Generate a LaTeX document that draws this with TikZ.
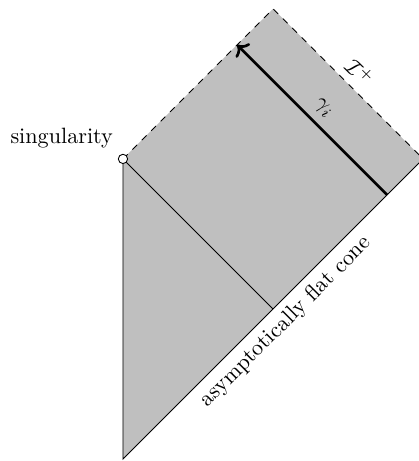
\documentclass[tikz,border=0pt]{standalone}
\usepackage{amsmath,amssymb}
\usepackage{xcolor}
\usepackage{tikz}
\usetikzlibrary{arrows.meta,positioning}

\begin{document}
\begin{tikzpicture}[
  region/.style={fill=lightgray},
  nullinf/.style={dashed},
  geod/.style={<-,very thick},
  lbl/.style={font=\normalsize},
  singpt/.style={circle,draw,fill=white,inner sep=0pt,minimum size=4.2pt}
]
\useasboundingbox (-1.95,-4.79) rectangle (4.685,2.52);
% corners of the diagram
\coordinate (S) at (0,0);
\coordinate (B) at (0,-4.76);
\coordinate (R) at (4.76,0);
\coordinate (T) at (2.38,2.38);
\coordinate (M) at (2.38,-2.38);
\coordinate (g0) at (4.19,-0.57);
\coordinate (g1) at (1.81,1.81);

\fill[region] (S) -- (B) -- (R) -- (T) -- cycle;
\draw (S) -- (B) -- node[lbl,sloped,below]{asymptotically flat cone} (R);
\draw[nullinf] (S) -- (T) -- node[lbl,sloped,above]{$\mathcal{I}^+$} (R);
\draw (S) -- (M);
\draw[geod] (g1) -- node[lbl,sloped,above]{$\gamma_i$} (g0);
\node[singpt] (sg) at (S) {};
\node[lbl,above left=1.5pt and 1pt] (singlbl) at (S) {singularity};
\end{tikzpicture}
\end{document}
